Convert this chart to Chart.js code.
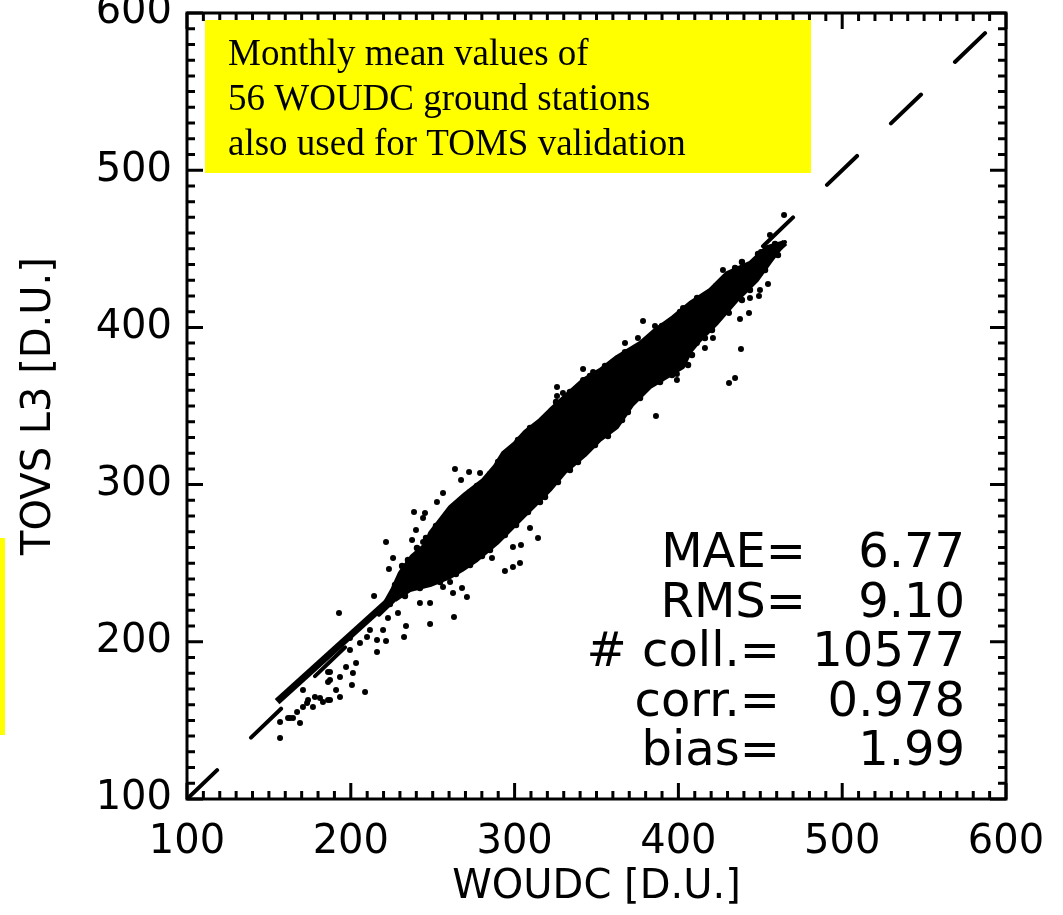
<!DOCTYPE html>
<html><head><meta charset="utf-8">
<script src="https://cdn.jsdelivr.net/npm/chart.js@4.4.0/dist/chart.umd.min.js"></script>
<style>html,body{margin:0;padding:0;background:#fff}canvas{display:block}</style>
</head><body>
<canvas id="c" width="1063" height="915"></canvas>
<script>
// ---- data ----
const xTickValues = [100, 200, 300, 400, 500, 600];
const xTickLabels = ['100', '200', '300', '400', '500', '600'];
const yTickValues = [100, 200, 300, 400, 500, 600];
const yTickLabels = ['100', '200', '300', '400', '500', '600'];
const xTitle = 'WOUDC [D.U.]';
const yTitle = 'TOVS L3 [D.U.]';

const oneToOneX = [100, 600];
const oneToOneY = [100, 600];
const regressionX = [155, 465];
const regressionY = [162, 454];

// outline of the dense point cloud (WOUDC, TOVS)
const cloudX = [219.7,225.2,230.0,237.4,245.3,248.4,254.5,260.6,269.7,280.7,288.0,292.9,300.2,306.3,315.5,321.6,330.8,341.8,352.1,362.5,376.6,385.7,396.7,407.1,419.3,429.7,443.7,454.1,465.1,
  455.9,448.0,435.8,423.6,413.2,407.1,402.8,391.8,382.7,371.7,362.5,352.1,343.0,330.8,321.6,312.5,305.1,297.2,289.3,277.0,267.9,260.6,248.4,236.1,227.0];
const cloudY = [222.8,232.9,243.8,254.6,261.6,269.2,277.5,285.7,294.0,302.9,311.8,320.1,326.5,333.5,341.1,347.4,356.3,366.5,372.9,381.2,390.1,398.3,406.6,415.5,423.8,434.6,441.0,451.1,454.3,
  441.6,430.1,417.4,402.8,392.0,384.3,374.8,367.8,362.1,350.6,336.6,328.4,318.8,308.0,296.6,287.0,279.4,271.1,262.8,252.0,245.7,241.2,236.1,232.9,226.6];

// collocations along the ragged rim of the cloud (WOUDC, TOVS)
const rimX = [227.0,231.3,234.9,240.4,245.9,252.0,258.7,264.2,272.8,277.0,285.0,289.9,296.0,302.1,309.4,318.6,325.3,333.8,346.0,355.2,367.4,381.4,390.0,401.0,411.4,423.0,434.6,438.8,448.6,459.0,
  460.8,452.9,443.7,438.8,430.3,420.5,416.2,408.3,405.9,396.1,388.8,376.6,369.2,365.6,357.0,349.1,338.7,333.8,326.5,318.6,315.5,308.2,300.9,294.1,285.0,280.1,272.8,264.2,254.5,242.2,233.1,223.9];
const rimY = [236.1,248.2,252.0,259.7,266.0,273.7,281.3,287.0,295.3,299.1,306.7,314.4,320.7,328.4,336.0,342.4,352.5,358.9,369.1,375.4,384.3,392.0,400.9,409.8,418.7,426.3,437.8,441.6,446.7,453.1,
  446.0,436.5,423.8,417.4,409.8,398.3,393.2,382.4,376.1,369.7,365.3,355.1,346.2,341.1,330.9,325.2,314.4,309.3,301.6,292.1,288.9,282.6,274.3,267.9,258.4,254.6,248.8,243.1,238.0,234.2,229.1,224.0];

// scattered individual collocations (WOUDC, TOVS)
const outlierX = [263.6,272.2,278.9,267.3,256.3,252.6,238.6,245.3,244.1,239.8,221.5,237.4,244.1,225.8,223.3,214.2,192.8,314.3,309.4,303.9,299.0,303.3,299.0,294.1,286.2,270.9,263.0,248.4,242.2,248.4,262.4,267.9,260.6,256.3,232.5,228.8,233.7,222.7,219.7,216.0,211.7,221.5,216.0,208.7,203.2,199.5,201.3,200.7,197.1,193.4,187.3,191.0,193.4,187.3,181.2,176.9,170.8,170.8,162.9,169.0,156.8,156.8,187.3,205.6,209.9,199.5,
  161.7,164.7,167.2,173.3,173.9,178.1,183.0,186.1,186.1,186.1,
  464.5,455.9,462.0,450.4,427.2,432.7,454.7,448.0,449.8,449.2,443.7,443.1,437.6,430.9,421.1,416.2,438.2,434.6,430.9,386.3,378.4,385.7,367.4,375.3,360.1,347.9,341.8,341.8,325.9,329.5,325.9,402.8,411.3,396.7,399.1,399.1,411.3];
const outlierY = [309.9,308.0,307.4,302.9,294.6,288.9,282.6,281.9,278.7,271.1,263.5,264.8,263.5,253.3,246.3,229.1,218.3,266.0,272.4,261.6,260.3,250.1,247.6,245.0,253.3,228.5,215.8,211.3,224.7,224.7,231.0,234.2,238.0,234.9,203.0,218.3,210.0,215.1,207.5,201.1,207.5,200.5,193.5,168.1,186.5,194.8,180.1,172.5,184.0,177.6,180.8,169.3,164.9,163.0,164.2,158.5,158.5,169.3,151.5,148.3,149.0,138.8,175.7,199.2,203.0,202.4,
  151.5,151.5,155.3,161.1,163.0,164.9,161.7,163.0,174.4,180.8,
  471.5,458.8,452.4,448.0,436.5,433.3,427.6,432.0,423.8,420.0,418.7,409.2,405.3,409.2,393.3,386.9,386.2,367.8,364.6,343.6,404.1,400.9,390.1,393.2,377.3,371.6,373.5,366.5,362.1,358.3,356.4,412.3,414.2,383.7,370.3,366.5,390.1];

const noteLines = ['Monthly mean values of', '56 WOUDC ground stations', 'also used for TOMS validation'];
const statNames = ['MAE=', 'RMS=', '# coll.=', 'corr.=', 'bias='];
const statValues = ['6.77', '9.10', '10577', '0.978', '1.99'];

// ---- helpers ----
const pts = (xs, ys) => xs.map((x, i) => ({x, y: ys[i]}));
const SANS = '"DejaVu Sans", sans-serif';

const decoPlugin = {
  id: 'deco',
  afterDatasetsDraw(chart) {
    const {ctx, chartArea: a, scales: {x, y}} = chart;
    ctx.save();
    ctx.strokeStyle = '#000';
    ctx.lineWidth = 3;
    ctx.strokeRect(a.left, a.top, a.right - a.left, a.bottom - a.top);
    ctx.beginPath();
    for (let v = 100; v <= 600; v += 10) {
      const L = (v % 100 === 0) ? 16 : 8;
      const px = x.getPixelForValue(v);
      ctx.moveTo(px, a.bottom); ctx.lineTo(px, a.bottom - L);
      ctx.moveTo(px, a.top); ctx.lineTo(px, a.top + L);
      const py = y.getPixelForValue(v);
      ctx.moveTo(a.left, py); ctx.lineTo(a.left + L, py);
      ctx.moveTo(a.right, py); ctx.lineTo(a.right - L, py);
    }
    ctx.stroke();
    ctx.restore();
  },
  afterDraw(chart) {
    const ctx = chart.ctx;
    ctx.save();
    // yellow note box
    ctx.fillStyle = '#ffff00';
    ctx.fillRect(205, 20, 606, 153);
    ctx.fillRect(0, 538, 5, 197);
    ctx.fillStyle = '#000';
    ctx.font = '37px "Liberation Serif", serif';
    ctx.textAlign = 'left';
    ctx.textBaseline = 'alphabetic';
    noteLines.forEach((t, i) => ctx.fillText(t, 228, 65 + i * 45));
    // statistics
    ctx.font = '48px ' + SANS;
    ctx.textAlign = 'right';
    const nameRight = [806, 806, 780, 780, 780];
    statNames.forEach((t, i) => {
      const yb = 567 + i * 49.5;
      ctx.fillText(t, nameRight[i], yb);
      ctx.fillText(statValues[i], 965, yb);
    });
    ctx.restore();
  }
};

new Chart(document.getElementById('c'), {
  type: 'scatter',
  data: {
    datasets: [
      { type: 'line', data: pts(oneToOneX, oneToOneY), borderColor: '#000', borderWidth: 4,
        borderDash: [41.7, 47], borderCapStyle: 'round', pointRadius: 0, fill: false, tension: 0 },
      { type: 'line', data: pts(regressionX, regressionY), borderColor: '#000', borderWidth: 7,
        pointRadius: 0, fill: false, tension: 0 },
      { type: 'scatter', data: pts(outlierX, outlierY), backgroundColor: '#000', borderColor: '#000',
        pointStyle: 'circle', pointRadius: 3, borderWidth: 0 },
      { type: 'scatter', data: pts(rimX, rimY), backgroundColor: '#000', borderColor: '#000',
        pointStyle: 'circle', pointRadius: 3.2, borderWidth: 0 },
      { type: 'line', data: pts(cloudX, cloudY), borderColor: '#000', backgroundColor: '#000',
        borderWidth: 4, borderJoinStyle: 'round', pointRadius: 0, fill: 'shape', tension: 0 }
    ]
  },
  options: {
    responsive: false,
    animation: false,
    events: [],
    layout: { padding: { left: 0, right: 57, top: 13, bottom: 0 } },
    plugins: { legend: { display: false }, tooltip: { enabled: false } },
    scales: {
      x: {
        type: 'linear', min: 100, max: 600,
        grid: { display: false, drawTicks: false }, border: { display: false },
        afterBuildTicks: s => { s.ticks = xTickValues.map(v => ({value: v})); },
        ticks: { color: '#000', padding: 20, font: { family: SANS, size: 40 }, maxRotation: 0,
                 callback: v => xTickLabels[xTickValues.indexOf(v)] },
        title: { display: true, text: xTitle, color: '#000', font: { family: SANS, size: 40 },
                 padding: { top: 0, bottom: 3 } },
        afterFit: s => { s.height = 116; s.paddingLeft = 0; s.paddingRight = 0; }
      },
      y: {
        type: 'linear', min: 100, max: 600,
        grid: { display: false, drawTicks: false }, border: { display: false },
        afterBuildTicks: s => { s.ticks = yTickValues.map(v => ({value: v})); },
        ticks: { color: '#000', padding: 15, font: { family: SANS, size: 40 },
                 callback: v => yTickLabels[yTickValues.indexOf(v)] },
        title: { display: true, text: yTitle, color: '#000', font: { family: SANS, size: 40 },
                 padding: { top: 16, bottom: 0 } },
        afterFit: s => { s.width = 187; s.paddingTop = 0; s.paddingBottom = 0; }
      }
    }
  },
  plugins: [decoPlugin]
});
</script>
</body></html>
